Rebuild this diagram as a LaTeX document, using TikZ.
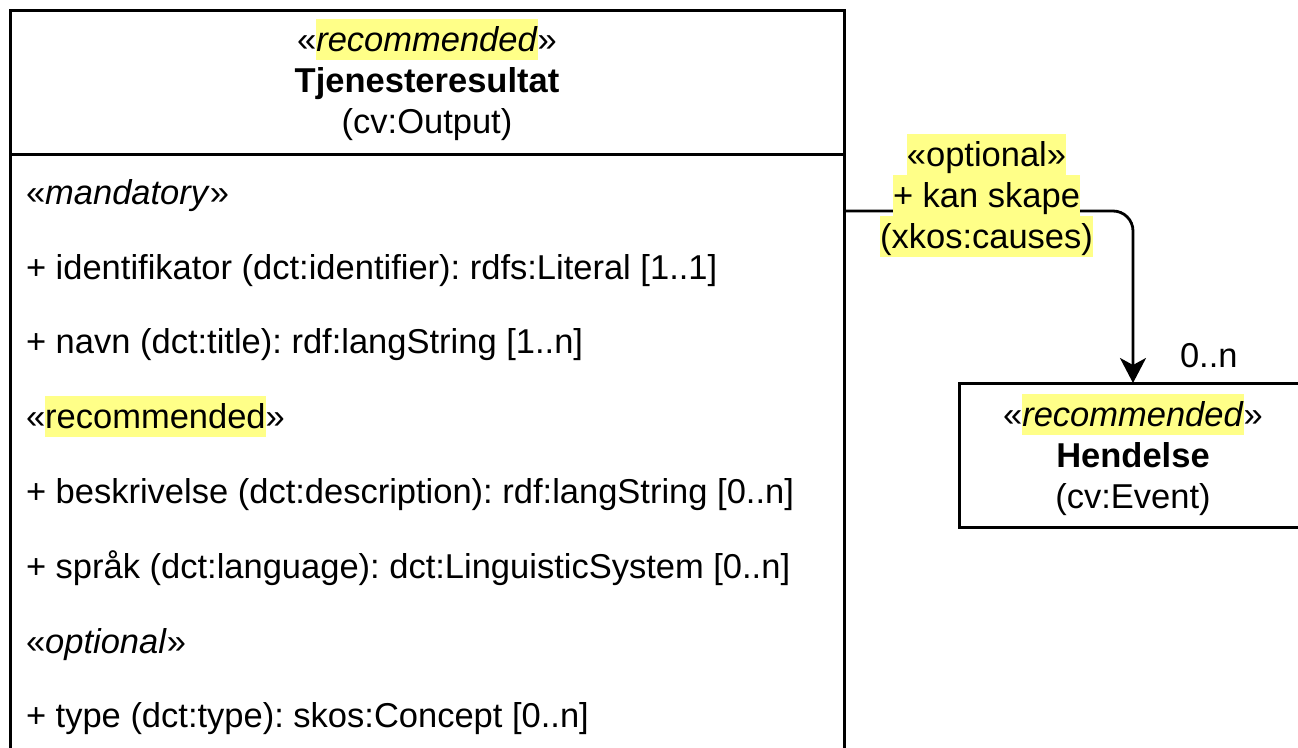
\documentclass[tikz,border=0pt]{standalone}
\usepackage{fontspec}
\setmainfont{Liberation Sans}
\usetikzlibrary{arrows.meta}
\definecolor{hlyellow}{RGB}{255,255,136}
\newcommand{\hlt}[1]{{\setlength{\fboxsep}{0pt}\colorbox{hlyellow}{\rule[-9pt]{0pt}{41pt}#1}}}
\frenchspacing
\begin{document}
\begin{tikzpicture}[x=1pt,y=-1pt,
 box/.style={draw=black, line width=3pt, inner sep=0pt, outer sep=0pt, anchor=north west},
 txt/.style={font=\fontsize{34.5}{41}\selectfont, inner sep=0pt, outer sep=0pt},
 bold/.style={txt, font=\fontsize{34.5}{41}\selectfont\bfseries},
 conn/.style={draw=black, line width=2.8pt, rounded corners=20pt, -{Stealth[length=25pt,width=26pt,inset=7pt]}}
]
\useasboundingbox (0,0) rectangle (1298,747);
% boxes
\node[box, minimum width=834pt, minimum height=800pt] (cls) at (10,10) {};
\node[box, minimum width=348pt, minimum height=144pt] (ev) at (959,383) {};
\coordinate (div) at (0,154);
\draw[line width=3pt] (cls.west |- div) -- (cls.east |- div);
% class header
\node[txt, anchor=base] (st1) at (427,51) {«\hlt{\textit{recommended}}»};
\node[bold, anchor=base] (nm1) at (427,92) {Tjenesteresultat};
\node[txt, anchor=base] (uri1) at (427,133) {(cv:Output)};
% attributes
\node[txt, anchor=base west] (a1) at (26,204) {«\textit{mandatory}»};
\node[txt, anchor=base west] (a2) at (26,279) {+ identifikator (dct:identifier): rdfs:Literal [1..1]};
\node[txt, anchor=base west] (a3) at (26,353) {+ navn (dct:title): rdf:langString [1..n]};
\node[txt, anchor=base west] (a4) at (26,428) {«\hlt{recommended}»};
\node[txt, anchor=base west] (a5) at (26,503) {+ beskrivelse (dct:description): rdf:langString [0..n]};
\node[txt, anchor=base west] (a6) at (26,578) {+ språk (dct:language): dct:LinguisticSystem [0..n]};
\node[txt, anchor=base west] (a7) at (26,653) {«\textit{optional}»};
\node[txt, anchor=base west] (a8) at (26,727) {+ type (dct:type): skos:Concept [0..n]};
% event box
\node[txt, anchor=base] (st2) at (1133,426) {«\hlt{\textit{recommended}}»};
\node[bold, anchor=base] (nm2) at (1133,467) {Hendelse};
\node[txt, anchor=base] (uri2) at (1133,508) {(cv:Event)};
% connector
\draw[conn] ([yshift=-201pt]cls.north east) -| (ev.north);
\node[txt, align=center] (rl) at (986.5,195.5) {\hlt{«optional»}\\\hlt{+ kan skape}\\\hlt{(xkos:causes)}};
\node[txt, anchor=base west] (mult) at (1180,367) {0..n};
\end{tikzpicture}
\end{document}
